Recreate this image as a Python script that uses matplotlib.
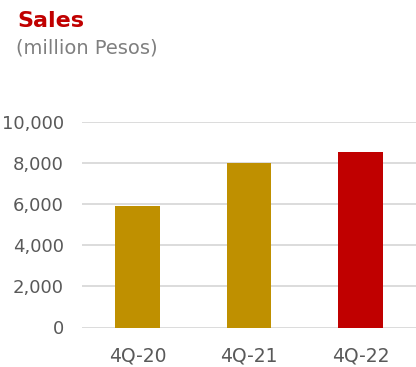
import matplotlib
matplotlib.use("Agg")
import matplotlib.pyplot as plt
from matplotlib.ticker import FuncFormatter

categories = ["4Q-20", "4Q-21", "4Q-22"]
sales = [5900, 7990, 8520]
colors = ["#BF9000", "#BF9000", "#C00000"]
yticks = [0, 2000, 4000, 6000, 8000, 10000]

W, H = 416, 367
fig = plt.figure(figsize=(W/100, H/100), dpi=100)
plt.rcParams['font.family'] = ['DejaVu Sans']

left, right, bottom, top = 82, 416, 327.5, 121.7
ax = fig.add_axes([left/W, 1 - bottom/H, (right-left)/W, (bottom-top)/H])
x = list(range(len(categories)))
ax.bar(x, sales, width=0.40, color=colors, zorder=3)
ax.set_xlim(-0.5, 2.5)
ax.set_ylim(0, 10000)
ax.set_yticks(yticks)
ax.yaxis.set_major_formatter(FuncFormatter(lambda v, p: f"{int(v):,}"))
ax.set_xticks(x)
ax.set_xticklabels(categories)
ax.grid(axis='y', color='#D9D9D9', linewidth=1.3, zorder=0)
for s in ax.spines.values():
    s.set_visible(False)
ax.tick_params(axis='x', length=0, labelsize=13.5, labelcolor='#595959', pad=14)
ax.tick_params(axis='y', length=0, labelsize=13, labelcolor='#595959', pad=13)

fig.text(17/W, 1 - 11/H, "Sales", color="#C00000", fontsize=16, fontweight='bold', va='top', ha='left')
fig.text(16/W, 1 - 38/H, "(million Pesos)", color="#7F7F7F", fontsize=14, va='top', ha='left')

fig.savefig("out.png", dpi=100)
